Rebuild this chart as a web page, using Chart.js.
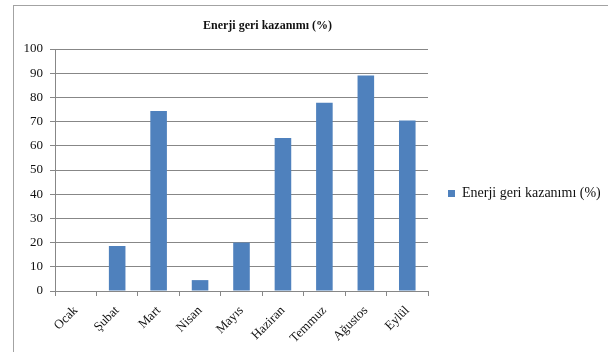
<!DOCTYPE html>
<html>
<head>
<meta charset="utf-8">
<script src="https://cdn.jsdelivr.net/npm/chart.js@4.4.1/dist/chart.umd.min.js"></script>
<style>
  html, body { margin: 0; padding: 0; width: 608px; height: 352px; overflow: hidden; background: #fff; }
  #frame { position: absolute; left: 13px; top: 5px; width: 700px; height: 400px;
           border-left: 1px solid #a3a3a3; border-top: 1px solid #a3a3a3; pointer-events: none; }
  #wrap { position: absolute; left: -65px; top: 0; width: 665px; height: 387px; }
</style>
</head>
<body>
<div id="frame"></div>
<div id="wrap"><canvas id="c" width="665" height="387"></canvas></div>
<script>
// Months (Ocak–Eylül) and the monthly energy recovery share, in percent
const months = ['Ocak', 'Şubat', 'Mart', 'Nisan', 'Mayıs', 'Haziran', 'Temmuz', 'Ağustos', 'Eylül'];
const recovery = [0, 18.6, 74.4, 4.5, 20, 63.2, 77.8, 89, 70.5];
const seriesName = 'Enerji geri kazanımı (%)';
const yTicks = [0, 10, 20, 30, 40, 50, 60, 70, 80, 90, 100];

const serif = "'Liberation Serif', 'Times New Roman', serif";
const axisGray = '#878787';
const textColor = '#111';

new Chart(document.getElementById('c'), {
  type: 'bar',
  data: {
    labels: months,
    datasets: [{
      label: seriesName,
      data: recovery,
      backgroundColor: '#4F81BD',
      borderWidth: 0,
      categoryPercentage: 1,
      barPercentage: 0.4
    }]
  },
  options: {
    responsive: false,
    animation: false,
    devicePixelRatio: 1,
    layout: { padding: { left: 0, right: 0, top: 0, bottom: 0 } },
    plugins: {
      tooltip: { enabled: false },
      title: {
        display: true,
        text: seriesName,
        color: textColor,
        font: { family: serif, size: 12, weight: 'bold' },
        padding: { top: 19, bottom: 15.6 }
      },
      legend: {
        position: 'right',
        align: 'center',
        maxWidth: 172,
        labels: {
          color: textColor,
          font: { family: serif, size: 14 },
          boxWidth: 7,
          boxHeight: 7,
          padding: 20
        }
      }
    },
    scales: {
      x: {
        grid: { display: true, drawOnChartArea: false, drawTicks: true, tickLength: 5, color: axisGray, offset: true },
        border: { display: true, color: axisGray },
        ticks: {
          color: textColor,
          font: { family: serif, size: 13 },
          maxRotation: 45,
          minRotation: 45,
          autoSkip: false,
          padding: 7
        },
        afterFit(scale) { scale.height = 96; }
      },
      y: {
        min: 0,
        max: 100,
        afterBuildTicks(scale) { scale.ticks = yTicks.map(v => ({ value: v })); },
        grid: { color: axisGray, tickLength: 5, drawTicks: true },
        border: { display: true, color: axisGray },
        ticks: {
          color: textColor,
          font: { family: serif, size: 13 },
          padding: 7
        },
        afterFit(scale) { scale.width = 120; }
      }
    }
  }
});
</script>
</body>
</html>
